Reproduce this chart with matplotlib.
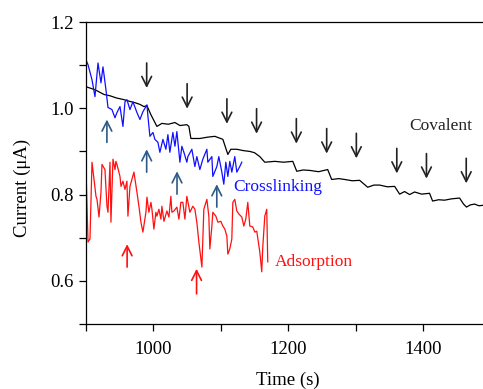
import matplotlib
matplotlib.use("Agg")
import matplotlib.pyplot as plt

plt.rcParams['font.family'] = ['Liberation Serif', 'DejaVu Serif']

# ---------------- data ----------------
cov_t = [900, 913.3, 926.7, 935.6, 945, 956.3, 965, 972.6, 980, 985.9, 990.4, 996.3, 1005.2,
         1012.6, 1022, 1031.9, 1039.3, 1049.6, 1052.6, 1055.6, 1068.9, 1080, 1091.1, 1103.0,
         1110.4, 1114.8, 1123.7, 1133, 1143.0, 1150, 1157.8, 1165.2, 1180.0, 1193, 1206.7,
         1212.6, 1222, 1231.9, 1245, 1258.5, 1264.4, 1275, 1283.7, 1295, 1305.9, 1317.8,
         1327, 1335.6, 1347, 1357.8, 1365.2, 1372.6, 1380.0, 1387.4, 1398, 1409.6, 1414.1,
         1423, 1431.9, 1442, 1454.1, 1460, 1464.4, 1470, 1476.3, 1483, 1488.1]
cov_c = [1.050, 1.043, 1.032, 1.029, 1.024, 1.020, 1.016, 1.013, 1.009, 1.004, 1.006, 0.985, 0.958,
         0.965, 0.963, 0.967, 0.960, 0.962, 0.958, 0.930, 0.930, 0.933, 0.935, 0.928,
         0.893, 0.905, 0.905, 0.902, 0.900, 0.897, 0.888, 0.875, 0.877, 0.875, 0.877,
         0.854, 0.857, 0.856, 0.853, 0.858, 0.835, 0.837, 0.835, 0.832, 0.833, 0.817,
         0.822, 0.822, 0.818, 0.819, 0.801, 0.807, 0.800, 0.806, 0.801, 0.803, 0.785,
         0.788, 0.787, 0.790, 0.792, 0.778, 0.771, 0.776, 0.778, 0.774, 0.775]

cross_t = [900, 903.0, 908.9, 913.3, 917.8, 922.2, 925.2, 929.6, 932.6, 938.5, 943.0, 945.9,
           950.4, 954.8, 957.8, 960.7, 965.2, 969.6, 975.6, 980.0, 984.4, 990.4, 991.9, 994.8,
           999.3, 1002.2, 1006.7, 1009.6, 1014.1, 1018.5, 1021.5, 1024.4, 1028.9, 1031.9,
           1034.8, 1039.3, 1042.2, 1045.2, 1049.6, 1051.1, 1057.0, 1061.5, 1064.4, 1068.9,
           1073.3, 1079.3, 1080.7, 1086.7, 1088.1, 1094.1, 1097.0, 1101.5, 1104.4, 1107.4,
           1110.4, 1113.3, 1116.3, 1120.7, 1123.7, 1128.1, 1131.1]
cross_c = [1.112, 1.101, 1.066, 1.027, 1.105, 1.059, 1.096, 1.043, 1.002, 0.997, 0.978, 0.990,
           1.004, 0.958, 1.015, 1.020, 0.997, 1.015, 0.990, 0.974, 0.992, 1.008, 0.981, 0.935,
           0.944, 0.928, 0.921, 0.898, 0.928, 0.905, 0.939, 0.898, 0.944, 0.912,
           0.946, 0.875, 0.912, 0.898, 0.875, 0.888, 0.905, 0.865, 0.888, 0.858,
           0.882, 0.905, 0.875, 0.888, 0.842, 0.865, 0.888, 0.852, 0.824, 0.875,
           0.842, 0.877, 0.852, 0.888, 0.852, 0.865, 0.875]

ads_t = [900, 903.0, 905.9, 908.9, 911.9, 914.8, 916.3, 919.3, 922.2, 923.7, 928.1, 931.1,
         932.6, 935.6, 937.0, 940.0, 943.0, 944.4, 945.9, 950.4, 951.9, 954.8, 957.8, 960.7,
         962.2, 965.2, 968.1, 971.1, 975.6, 978.5, 981.5, 984.4, 988.9, 990.4, 993.3, 996.3,
         997.8, 1000.7, 1003.7, 1005.2, 1008.1, 1011.1, 1012.6, 1015.6, 1020.0, 1023.0,
         1025.9, 1027.4, 1030.4, 1034.8, 1037.8, 1040.7, 1043.7, 1046.7, 1049.6, 1054.1,
         1058.5, 1061.5, 1064.4, 1067.4, 1071.9, 1074.8, 1079.3, 1082.2, 1083.7, 1086.7,
         1088.1, 1092.6, 1095.6, 1100.0, 1103.0, 1105.9, 1108.9, 1110.4, 1113.3, 1116.3,
         1117.8, 1120.7, 1123.7, 1126.7, 1131.1, 1134.1, 1137.0, 1140.0, 1143.0, 1147.4,
         1150.4, 1153.3, 1157.8, 1160.7, 1162.2, 1165.2, 1168.1, 1169.6]
ads_c = [0.858, 0.690, 0.697, 0.875, 0.835, 0.796, 0.789, 0.748, 0.805, 0.870, 0.858, 0.773,
         0.759, 0.875, 0.736, 0.882, 0.858, 0.877, 0.870, 0.842, 0.819, 0.831, 0.812, 0.831,
         0.750, 0.819, 0.835, 0.852, 0.805, 0.773, 0.736, 0.713, 0.759, 0.794, 0.759, 0.782,
         0.766, 0.720, 0.759, 0.750, 0.766, 0.743, 0.773, 0.738, 0.762, 0.748,
         0.796, 0.759, 0.762, 0.771, 0.743, 0.782, 0.782, 0.743, 0.796, 0.759,
         0.773, 0.766, 0.736, 0.690, 0.632, 0.766, 0.789, 0.750, 0.674, 0.727,
         0.759, 0.750, 0.736, 0.738, 0.727, 0.720, 0.704, 0.662, 0.674, 0.697,
         0.782, 0.789, 0.762, 0.755, 0.748, 0.727, 0.743, 0.782, 0.727, 0.725,
         0.713, 0.715, 0.667, 0.621, 0.678, 0.750, 0.766, 0.644]

# arrows: (time, tail current, tip current)
cov_arrow_t = [990, 1050, 1109, 1153, 1212, 1257, 1301, 1361, 1405, 1464]
cov_arrow_tail = [1.105, 1.057, 1.022, 0.999, 0.976, 0.953, 0.942, 0.907, 0.895, 0.884]
cov_arrow_tip = [1.047, 0.999, 0.964, 0.941, 0.918, 0.895, 0.884, 0.849, 0.837, 0.826]

cross_arrow_t = [931, 990, 1035, 1094]
cross_arrow_tail = [0.921, 0.852, 0.801, 0.771]
cross_arrow_tip = [0.974, 0.905, 0.854, 0.824]

ads_arrow_t = [961, 1064]
ads_arrow_tail = [0.632, 0.570]
ads_arrow_tip = [0.685, 0.628]

x_major = [1000, 1200, 1400]
x_minor = [900, 1100, 1300, 1500]
y_major = [0.6, 0.8, 1.0, 1.2]
y_minor = [0.5, 0.7, 0.9, 1.1]

# ---------------- plot ----------------
fig = plt.figure(figsize=(4.83, 3.89), dpi=100)
ax = fig.add_axes([86 / 483, 65 / 389, (490.5 - 86) / 483, 302 / 389])

ax.plot(cov_t, cov_c, color='black', lw=0.9)
ax.plot(cross_t, cross_c, color='#1010ff', lw=0.9)
ax.plot(ads_t, ads_c, color='#ff1010', lw=0.9)

def arrows(ts, tails, tips, color):
    for t, a, b in zip(ts, tails, tips):
        ax.annotate('', xy=(t, b), xytext=(t, a),
                    arrowprops=dict(arrowstyle='->, head_length=0.5, head_width=0.25',
                                    color=color, lw=1.2,
                                    mutation_scale=14, shrinkA=0, shrinkB=0))

arrows(cov_arrow_t, cov_arrow_tail, cov_arrow_tip, '#222222')
arrows(cross_arrow_t, cross_arrow_tail, cross_arrow_tip, '#2e5b86')
arrows(ads_arrow_t, ads_arrow_tail, ads_arrow_tip, '#ff1010')

ax.text(1426, 0.958, 'Covalent', color='#222222', fontsize=12.5, ha='center', va='center')
ax.text(1118, 0.817, 'Crosslinking', color='#1010ff', fontsize=12.5, ha='left', va='center')
ax.text(1180, 0.644, 'Adsorption', color='#ff1010', fontsize=12.5, ha='left', va='center')

ax.set_xlim(900, 1500)
ax.set_ylim(0.5, 1.2)
ax.set_xticks(x_major)
ax.set_xticklabels([str(v) for v in x_major])
ax.set_xticks(x_minor, minor=True)
ax.set_yticks(y_major)
ax.set_yticklabels(['%.1f' % v for v in y_major])
ax.set_yticks(y_minor, minor=True)
ax.tick_params(which='both', direction='out', length=5, width=0.9, labelsize=13.5)
ax.tick_params(axis='y', which='both', pad=4)
ax.tick_params(axis='x', which='both', pad=7)
ax.spines['right'].set_visible(False)
for s in ['left', 'bottom', 'top']:
    ax.spines[s].set_linewidth(0.9)

ax.set_xlabel('Time (s)', fontsize=13.5)
ax.xaxis.label.set_va('center')
ax.xaxis.set_label_coords(0.5, -0.185)
ax.set_ylabel('Current (μA)', fontsize=13.5)
ax.yaxis.label.set_va('center')
ax.yaxis.set_label_coords(-0.158, 0.45)

fig.savefig('out.png', dpi=100)
